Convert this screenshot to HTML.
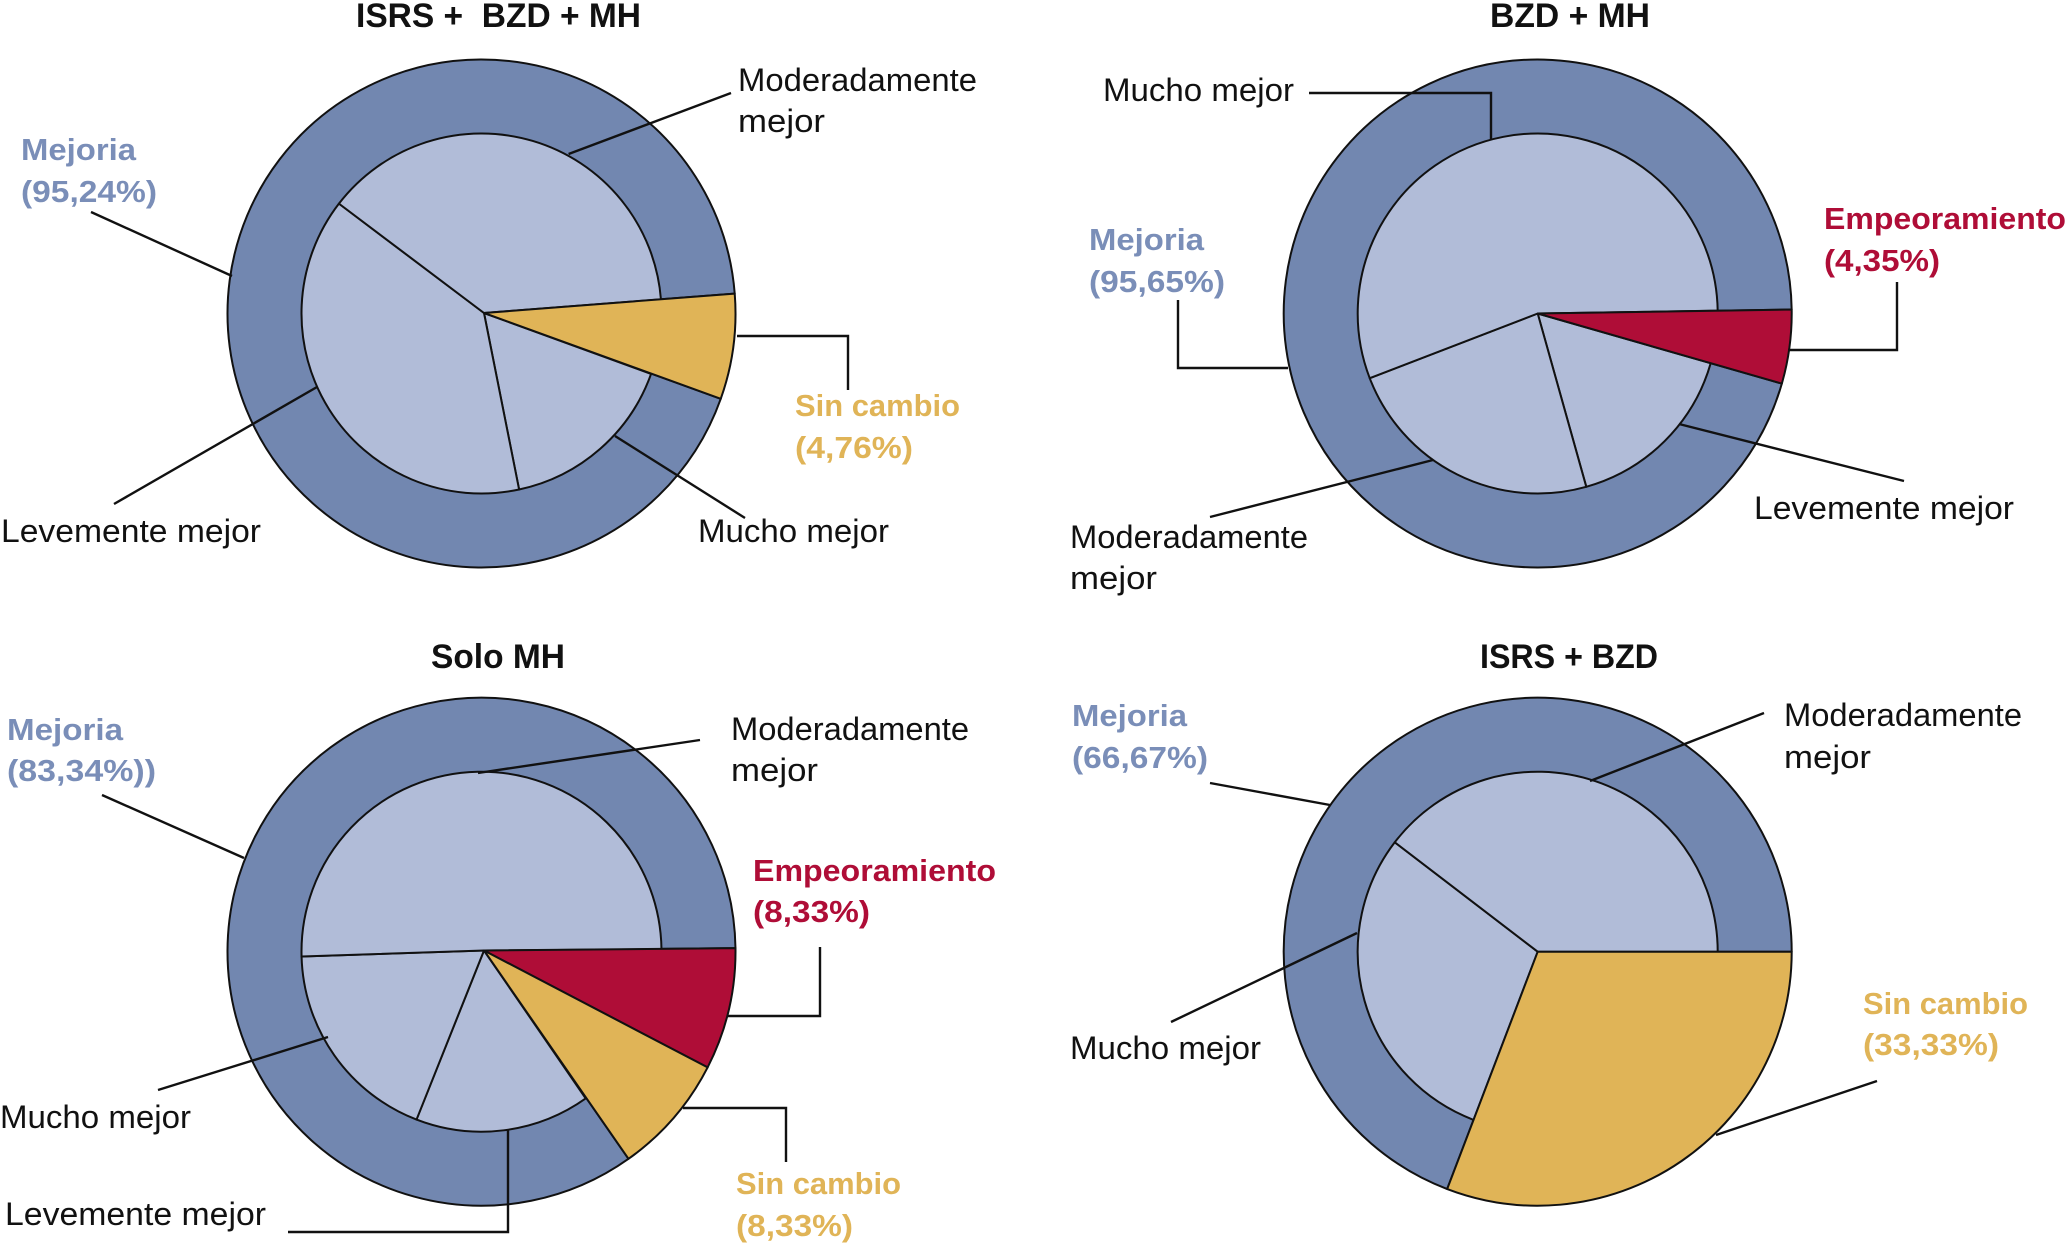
<!DOCTYPE html>
<html lang="es">
<head>
<meta charset="utf-8">
<title>Respuesta por tratamiento</title>
<style>
html,body{margin:0;padding:0;background:#fff;width:2067px;height:1244px;overflow:hidden}
svg{display:block}
text{font-family:"Liberation Sans",sans-serif;font-size:32px;fill:#111;white-space:pre}
.title{font-weight:700;font-size:34px}
.blue{fill:#7A8EB8;font-weight:700;font-size:31px}
.gold{fill:#E0B457;font-weight:700;font-size:31px}
.red{fill:#AF0D37;font-weight:700;font-size:31px}
.leader{fill:none;stroke:#111;stroke-width:2.4}
</style>
</head>
<body>
<svg xmlns="http://www.w3.org/2000/svg" width="2067" height="1244" viewBox="0 0 2067 1244">
  <g id="pies"></g>

  <g>
    <text class="title" x="356" y="27" textLength="285" lengthAdjust="spacingAndGlyphs">ISRS +  BZD + MH</text>
    <text x="738" y="91" textLength="239" lengthAdjust="spacingAndGlyphs">Moderadamente</text>
    <text x="738" y="132" textLength="87" lengthAdjust="spacingAndGlyphs">mejor</text>
    <text class="blue" x="21" y="160" textLength="115" lengthAdjust="spacingAndGlyphs">Mejoria</text>
    <text class="blue" x="21" y="202" textLength="136" lengthAdjust="spacingAndGlyphs">(95,24%)</text>
    <text class="gold" x="795" y="416" textLength="165" lengthAdjust="spacingAndGlyphs">Sin cambio</text>
    <text class="gold" x="795" y="458" textLength="118" lengthAdjust="spacingAndGlyphs">(4,76%)</text>
    <text x="1" y="542" textLength="260" lengthAdjust="spacingAndGlyphs">Levemente mejor</text>
    <text x="698" y="542" textLength="191" lengthAdjust="spacingAndGlyphs">Mucho mejor</text>
    <polyline class="leader" points="731,93 568.6,154"/>
    <polyline class="leader" points="91,212 232,276"/>
    <polyline class="leader" points="737,336 848,336 848,390"/>
    <polyline class="leader" points="114,504 317,387"/>
    <polyline class="leader" points="615,436 745,518"/>
  </g>

  <g>
    <text class="title" x="1490" y="27" textLength="160" lengthAdjust="spacingAndGlyphs">BZD + MH</text>
    <text x="1103" y="101" textLength="191" lengthAdjust="spacingAndGlyphs">Mucho mejor</text>
    <text class="blue" x="1089" y="250" textLength="115" lengthAdjust="spacingAndGlyphs">Mejoria</text>
    <text class="blue" x="1089" y="292" textLength="136" lengthAdjust="spacingAndGlyphs">(95,65%)</text>
    <text class="red" x="1824" y="229" textLength="242" lengthAdjust="spacingAndGlyphs">Empeoramiento</text>
    <text class="red" x="1824" y="271" textLength="116" lengthAdjust="spacingAndGlyphs">(4,35%)</text>
    <text x="1754" y="519" textLength="260" lengthAdjust="spacingAndGlyphs">Levemente mejor</text>
    <text x="1070" y="548" textLength="238" lengthAdjust="spacingAndGlyphs">Moderadamente</text>
    <text x="1070" y="589" textLength="87" lengthAdjust="spacingAndGlyphs">mejor</text>
    <polyline class="leader" points="1309,93 1491,93 1491,140"/>
    <polyline class="leader" points="1178,300 1178,368 1288,368"/>
    <polyline class="leader" points="1897,282 1897,350 1788,350"/>
    <polyline class="leader" points="1904,481 1679,424"/>
    <polyline class="leader" points="1210,517 1433,460"/>
  </g>

  <g>
    <text class="title" x="431" y="668" textLength="134" lengthAdjust="spacingAndGlyphs">Solo MH</text>
    <text x="731" y="740" textLength="238" lengthAdjust="spacingAndGlyphs">Moderadamente</text>
    <text x="731" y="781" textLength="87" lengthAdjust="spacingAndGlyphs">mejor</text>
    <text class="blue" x="7" y="740" textLength="116" lengthAdjust="spacingAndGlyphs">Mejoria</text>
    <text class="blue" x="7" y="781" textLength="149" lengthAdjust="spacingAndGlyphs">(83,34%))</text>
    <text class="red" x="753" y="881" textLength="243" lengthAdjust="spacingAndGlyphs">Empeoramiento</text>
    <text class="red" x="753" y="922" textLength="117" lengthAdjust="spacingAndGlyphs">(8,33%)</text>
    <text class="gold" x="736" y="1194" textLength="165" lengthAdjust="spacingAndGlyphs">Sin cambio</text>
    <text class="gold" x="736" y="1236" textLength="117" lengthAdjust="spacingAndGlyphs">(8,33%)</text>
    <text x="0" y="1128" textLength="191" lengthAdjust="spacingAndGlyphs">Mucho mejor</text>
    <text x="5" y="1225" textLength="261" lengthAdjust="spacingAndGlyphs">Levemente mejor</text>
    <polyline class="leader" points="700,740 478,773"/>
    <polyline class="leader" points="102,795 244,858"/>
    <polyline class="leader" points="820,947 820,1016 728,1016"/>
    <polyline class="leader" points="683,1108 786,1108 786,1162"/>
    <polyline class="leader" points="158,1090 328,1037"/>
    <polyline class="leader" points="288,1232 508,1232 508,1129"/>
  </g>

  <g>
    <text class="title" x="1480" y="668" textLength="178" lengthAdjust="spacingAndGlyphs">ISRS + BZD</text>
    <text class="blue" x="1072" y="726" textLength="115" lengthAdjust="spacingAndGlyphs">Mejoria</text>
    <text class="blue" x="1072" y="768" textLength="136" lengthAdjust="spacingAndGlyphs">(66,67%)</text>
    <text x="1784" y="726" textLength="238" lengthAdjust="spacingAndGlyphs">Moderadamente</text>
    <text x="1784" y="768" textLength="87" lengthAdjust="spacingAndGlyphs">mejor</text>
    <text x="1070" y="1059" textLength="191" lengthAdjust="spacingAndGlyphs">Mucho mejor</text>
    <text class="gold" x="1863" y="1014" textLength="165" lengthAdjust="spacingAndGlyphs">Sin cambio</text>
    <text class="gold" x="1863" y="1055" textLength="136" lengthAdjust="spacingAndGlyphs">(33,33%)</text>
    <polyline class="leader" points="1210,783 1330,805"/>
    <polyline class="leader" points="1764,713 1590,781"/>
    <polyline class="leader" points="1171,1022 1357,933"/>
    <polyline class="leader" points="1877,1081 1716,1135"/>
  </g>
</svg>

<script>
// Slice shares as drawn in the picture (percent of the circle, clockwise).
const isrsBzdMhCategories = ['sin-cambio', 'mucho-mejor', 'levemente-mejor', 'moderadamente-mejor'];
const isrsBzdMhValues = [6.7, 16.2, 38.8, 38.3];

const bzdMhCategories = ['empeoramiento', 'levemente-mejor', 'moderadamente-mejor', 'mucho-mejor'];
const bzdMhValues = [4.7, 16.2, 23.5, 55.6];

const soloMhCategories = ['empeoramiento', 'sin-cambio', 'levemente-mejor', 'mucho-mejor', 'moderadamente-mejor'];
const soloMhValues = [7.75, 7.65, 15.7, 18.7, 50.2];

const isrsBzdCategories = ['sin-cambio', 'mucho-mejor', 'moderadamente-mejor'];
const isrsBzdValues = [30.8, 29.6, 39.6];

const SVG_NS = 'http://www.w3.org/2000/svg';
const OUTER_R = 254;
const INNER_R = 180;
const COLORS = {ring: '#7287B0', inner: '#B1BCD8', 'sin-cambio': '#E0B457', empeoramiento: '#AF0D37'};

// cx/cy: circle centre; ax/ay: where the slice edges meet (slightly off-centre on the left pies).
const charts = [
  {id: 'isrs-bzd-mh', cx: 481.5, cy: 313.5, ax: 484, ay: 313, start: -4.5, cats: isrsBzdMhCategories, vals: isrsBzdMhValues},
  {id: 'bzd-mh', cx: 1537.7, cy: 313.5, ax: 1537.7, ay: 313.5, start: -0.9, cats: bzdMhCategories, vals: bzdMhValues},
  {id: 'solo-mh', cx: 481.5, cy: 951.7, ax: 484, ay: 950.5, start: -0.8, cats: soloMhCategories, vals: soloMhValues},
  {id: 'isrs-bzd', cx: 1537.7, cy: 951.7, ax: 1537.7, ay: 951.7, start: 0, cats: isrsBzdCategories, vals: isrsBzdValues}
];

function angleScale(value, total, start) {
  return start + value / total * 360;
}

function polar(cx, cy, r, deg) {
  const a = deg * Math.PI / 180;
  return [cx + r * Math.cos(a), cy + r * Math.sin(a)];
}

function wedge(chart, r, a0, a1) {
  const p0 = polar(chart.cx, chart.cy, r, a0);
  const p1 = polar(chart.cx, chart.cy, r, a1);
  const large = a1 - a0 > 180 ? 1 : 0;
  return 'M' + chart.ax + ' ' + chart.ay + 'L' + p0[0] + ' ' + p0[1] +
    'A' + r + ' ' + r + ' 0 ' + large + ' 1 ' + p1[0] + ' ' + p1[1] + 'Z';
}

function addWedge(parent, d, fill, sliceName) {
  const path = document.createElementNS(SVG_NS, 'path');
  path.setAttribute('d', d);
  path.setAttribute('fill', fill);
  path.setAttribute('stroke', '#111');
  path.setAttribute('stroke-width', '2');
  path.setAttribute('stroke-linejoin', 'round');
  
  
  parent.appendChild(path);
}

const root = document.getElementById('pies');
charts.forEach(function (chart) {
  const group = document.createElementNS(SVG_NS, 'g');
  const groupName = 'pie-' + chart.id;
  
  
  root.appendChild(group);

  const total = chart.vals.reduce(function (s, v) { return s + v; }, 0);
  let cumulative = 0;
  const slices = chart.cats.map(function (cat, i) {
    const a0 = angleScale(cumulative, total, chart.start);
    cumulative += chart.vals[i];
    const a1 = angleScale(cumulative, total, chart.start);
    return {cat: cat, a0: a0, a1: a1, highlighted: !!COLORS[cat]};
  });

  // Outer "Mejoria" ring spans every improvement sub-category.
  const improved = slices.filter(function (s) { return !s.highlighted; });
  addWedge(group, wedge(chart, OUTER_R, improved[0].a0, improved[improved.length - 1].a1), COLORS.ring, 'slice-mejoria-ring');

  improved.forEach(function (s) {
    addWedge(group, wedge(chart, INNER_R, s.a0, s.a1), COLORS.inner, 'slice-' + s.cat);
  });
  slices.filter(function (s) { return s.highlighted; }).forEach(function (s) {
    addWedge(group, wedge(chart, OUTER_R, s.a0, s.a1), COLORS[s.cat], 'slice-' + s.cat);
  });
});
</script>
</body>
</html>
